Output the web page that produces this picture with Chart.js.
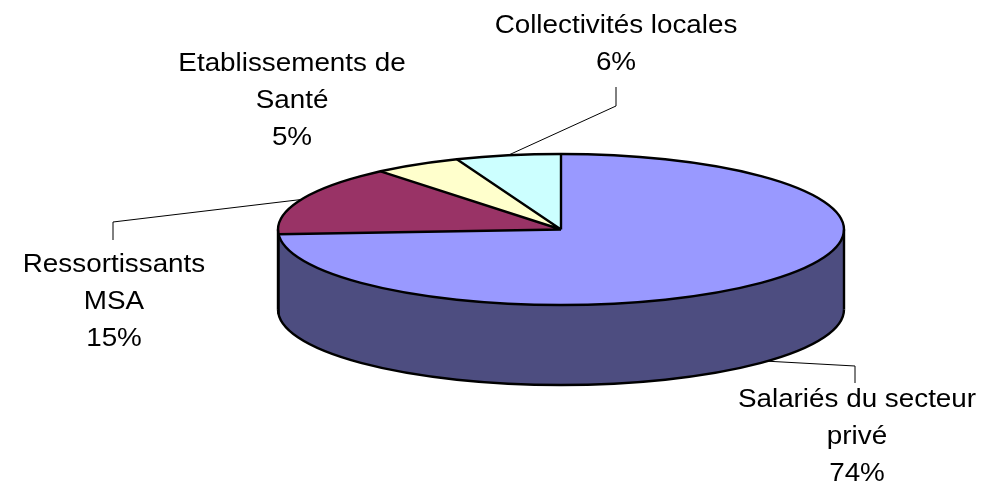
<!DOCTYPE html>
<html>
<head>
<meta charset="utf-8">
<script src="https://cdn.jsdelivr.net/npm/chart.js@4"></script>
<style>
  html, body { margin: 0; padding: 0; background: #fff; }
  #wrap { width: 994px; height: 494px; position: relative; }
</style>
</head>
<body>
<div id="wrap"><canvas id="graficoPie"></canvas></div>
<script>
// donnees du graphique
const categories = [['Salariés du secteur', 'privé'], ['Ressortissants', 'MSA'], ['Etablissements de', 'Santé'], ['Collectivités locales']];
const values = [74, 15, 5, 6];
const colors = ['#9999FF', '#993366', '#FFFFCC', '#CCFFFF'];
const sideColors = ['#4D4D80', '#4D1A33', '#808066', '#668080'];

const total = values.reduce((s, v) => s + v, 0);

// faux 3D : on aplatit le camembert et on dessine la tranche
const pie3d = {
  id: 'pie3d',
  beforeDatasetsDraw(chart, args, opts) {
    const arcs = chart.getDatasetMeta(0).data;
    if (!arcs.length) return;
    const ctx = chart.ctx;
    const cx = arcs[0].x, cy = arcs[0].y, R = arcs[0].outerRadius;
    const rx = opts.rx, ry = opts.ry, d = opts.depth;

    arcs.forEach((a, i) => {
      const lo = Math.max(a.startAngle, 0);
      const hi = Math.min(a.endAngle, Math.PI);
      if (hi <= lo) return;
      ctx.beginPath();
      ctx.ellipse(cx, cy, rx, ry, 0, lo, hi);
      ctx.ellipse(cx, cy + d, rx, ry, 0, hi, lo, true);
      ctx.closePath();
      ctx.fillStyle = sideColors[i];
      ctx.fill();
    });

    ctx.save();
    ctx.translate(cx, cy);
    ctx.scale(rx / R, ry / R);
    ctx.translate(-cx, -cy);
  },
  afterDatasetsDraw(chart, args, opts) {
    const arcs = chart.getDatasetMeta(0).data;
    if (!arcs.length) return;
    const ctx = chart.ctx;
    ctx.restore();
    const cx = arcs[0].x, cy = arcs[0].y;
    const rx = opts.rx, ry = opts.ry, d = opts.depth;

    ctx.save();
    ctx.strokeStyle = '#000';
    ctx.lineWidth = 2.4;
    ctx.lineJoin = 'round';

    // contour de la tranche
    ctx.beginPath();
    ctx.ellipse(cx, cy + d, rx, ry, 0, 0, Math.PI);
    ctx.stroke();
    ctx.beginPath();
    ctx.moveTo(cx + rx, cy); ctx.lineTo(cx + rx, cy + d);
    ctx.moveTo(cx - rx, cy); ctx.lineTo(cx - rx, cy + d);
    arcs.forEach(a => {
      if (a.startAngle > 0 && a.startAngle < Math.PI) {
        const px = cx + rx * Math.cos(a.startAngle), py = cy + ry * Math.sin(a.startAngle);
        ctx.moveTo(px, py); ctx.lineTo(px, py + d);
      }
    });
    ctx.stroke();

    // dessus
    ctx.beginPath();
    ctx.ellipse(cx, cy, rx, ry, 0, 0, Math.PI * 2);
    ctx.stroke();
    ctx.beginPath();
    arcs.forEach(a => {
      ctx.moveTo(cx, cy);
      ctx.lineTo(cx + rx * Math.cos(a.startAngle), cy + ry * Math.sin(a.startAngle));
    });
    ctx.stroke();

    // etiquettes
    ctx.lineWidth = 1;
    ctx.font = opts.fontSize + 'px "Liberation Sans", Arial, sans-serif';
    ctx.fillStyle = '#000';
    ctx.textAlign = 'center';
    ctx.textBaseline = 'alphabetic';
    arcs.forEach((a, i) => {
      const lay = opts.labels[i];
      if (lay.elbow) {
        const mid = (a.startAngle + a.endAngle) / 2;
        let ax = cx + rx * Math.cos(mid), ay = cy + ry * Math.sin(mid);
        if (Math.sin(mid) > 0) ay += d;
        ctx.beginPath();
        ctx.moveTo(ax, ay);
        ctx.lineTo(lay.elbow[0], lay.elbow[1]);
        ctx.lineTo(lay.foot[0], lay.foot[1]);
        ctx.stroke();
      }
      const lines = categories[i].concat([Math.round(values[i] / total * 100) + '%']);
      lines.forEach((t, k) => {
        ctx.save();
        ctx.translate(lay.x, lay.y + k * opts.lineHeight);
        ctx.scale(opts.stretch, 1);
        ctx.fillText(t, 0, 0);
        ctx.restore();
      });
    });
    ctx.restore();
  }
};

const ctx = document.getElementById('graficoPie').getContext('2d');

new Chart(ctx, {
  type: 'pie',
  data: {
    labels: categories,
    datasets: [{
      data: values,
      backgroundColor: colors,
      borderWidth: 0,
      hoverOffset: 0
    }]
  },
  options: {
    responsive: true,
    maintainAspectRatio: false,
    animation: false,
    events: [],
    layout: {
      padding: { left: 331.5, right: 203.5, top: 0, bottom: 35 }
    },
    plugins: {
      legend: { display: false },
      tooltip: { enabled: false },
      pie3d: {
        rx: 283,
        ry: 75.5,
        depth: 80,
        fontSize: 26,
        stretch: 1.07,
        lineHeight: 37,
        labels: [
          { x: 857, y: 407, elbow: [855, 366], foot: [855, 383] },
          { x: 114, y: 272, elbow: [113, 222], foot: [113, 240] },
          { x: 292, y: 71 },
          { x: 616, y: 33, elbow: [616, 106], foot: [616, 87] }
        ]
      }
    }
  },
  plugins: [pie3d]
});
</script>
</body>
</html>
